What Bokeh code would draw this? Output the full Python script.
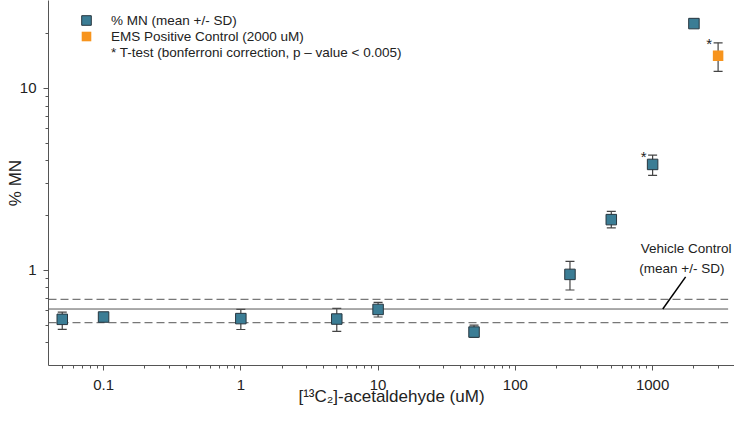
from bokeh.plotting import figure
from bokeh.models import (ColumnDataSource, Whisker, TeeHead, Legend, LegendItem,
                          FixedTicker)
from bokeh.core.properties import value
from bokeh.embed import file_html
from bokeh.resources import INLINE

# ---------------- data ----------------
CONC = [0.05, 0.1, 1, 5, 10, 50, 250, 500, 1000, 2000]
MN = [0.538, 0.554, 0.543, 0.540, 0.610, 0.458, 0.95, 1.90, 3.82, 22.7]
MN_LO = [0.474, 0.540, 0.473, 0.462, 0.554, 0.430, 0.78, 1.71, 3.33, 22.4]
MN_HI = [0.590, 0.570, 0.610, 0.618, 0.667, 0.500, 1.12, 2.11, 4.30, 23.0]

EMS_X = [3000]
EMS_Y = [15.1]
EMS_LO = [12.4]
EMS_HI = [17.8]

STAR_X = [1000, 3000]
STAR_Y = [4.30, 17.8]

X_START, X_END = 0.0397, 3950
Y_START, Y_END = 0.30, 30.4

VC_X = [X_START, 3550]
VC_MEAN = 0.613
VC_LO = 0.516
VC_HI = 0.693
VC_LEADER_X = [1186, 1740]
VC_LEADER_Y = [0.613, 0.92]
VC_TEXT_X = [820, 800]
VC_TEXT_Y = [1.32, 1.02]
VC_TEXT = ["Vehicle Control", "(mean +/- SD)"]

X_TICKS = [0.1, 1, 10, 100, 1000]
X_TICK_LABELS = ["0.1", "1", "10", "100", "1000"]
X_MINOR = [0.05, 0.06, 0.07, 0.08, 0.09] + [k * 0.1 for k in range(2, 10)] + \
          list(range(2, 10)) + [k * 10 for k in range(2, 10)] + \
          [k * 100 for k in range(2, 10)] + [2000, 3000]
Y_TICKS = [1, 10]
Y_TICK_LABELS = ["1", "10"]
Y_MINOR = [0.4, 0.5, 0.6, 0.7, 0.8, 0.9, 2, 3, 4, 5, 6, 7, 8, 9, 20]

X_TITLE = "[\u00b9\u00b3C\u2082]-acetaldehyde (uM)"
Y_TITLE = "% MN"
LEGEND_LABELS = ["% MN (mean +/- SD)", "EMS Positive Control (2000 uM)",
                 "* T-test (bonferroni correction, p \u2013 value < 0.005)"]

TEAL = "#3b7d95"
TEAL_LINE = "#27363f"
ORANGE = "#f7941d"
FONT = "Liberation Sans"
TXT = "#222222"
AX = "#555555"

p = figure(width=734, height=409, x_axis_type="log", y_axis_type="log",
           x_range=(X_START, X_END), y_range=(Y_START, Y_END),
           output_backend="svg", toolbar_location=None,
           min_border_left=48, min_border_right=0, min_border_top=0,
           min_border_bottom=44)
p.outline_line_color = None
p.xgrid.visible = False
p.ygrid.visible = False
p.background_fill_color = "white"

# axes
p.xaxis.ticker = FixedTicker(ticks=X_TICKS, minor_ticks=X_MINOR)
p.yaxis.ticker = FixedTicker(ticks=Y_TICKS, minor_ticks=Y_MINOR)
p.xaxis.major_label_overrides = dict(zip(X_TICKS, X_TICK_LABELS))
p.yaxis.major_label_overrides = dict(zip(Y_TICKS, Y_TICK_LABELS))
p.xaxis.axis_label = X_TITLE
p.yaxis.axis_label = Y_TITLE
for ax in (p.xaxis, p.yaxis):
    ax.axis_line_color = AX
    ax.major_tick_line_color = AX
    ax.minor_tick_line_color = AX
    ax.major_tick_in = 0
    ax.major_tick_out = 5
    ax.minor_tick_in = 0
    ax.minor_tick_out = 3
    ax.major_label_text_font = FONT
    ax.major_label_text_font_size = "15px"
    ax.major_label_text_color = TXT
    ax.axis_label_text_font = FONT
    ax.axis_label_text_font_style = "normal"
    ax.axis_label_text_color = TXT
p.xaxis.axis_label_text_font_size = "17px"
p.yaxis.axis_label_text_font_size = "17px"
p.xaxis.major_label_standoff = 9
p.xaxis.axis_label_standoff = -6
p.yaxis.major_label_standoff = 7
p.yaxis.axis_label_standoff = -8

# vehicle control lines
p.line(VC_X, [VC_MEAN, VC_MEAN], line_color="#555555", line_width=1)
p.line(VC_X, [VC_HI, VC_HI], line_color="#777777", line_width=1.2, line_dash="8 4")
p.line(VC_X, [VC_LO, VC_LO], line_color="#777777", line_width=1.2, line_dash="8 4")
p.line(VC_LEADER_X, VC_LEADER_Y, line_color="black", line_width=1.5)
p.text(VC_TEXT_X, VC_TEXT_Y, text=VC_TEXT, text_font=value(FONT),
       text_font_size="13.5px", text_color=TXT, text_baseline="middle",
       text_align="left")

# error bars
src = ColumnDataSource(dict(x=CONC, y=MN, lo=MN_LO, hi=MN_HI))
ems = ColumnDataSource(dict(x=EMS_X, y=EMS_Y, lo=EMS_LO, hi=EMS_HI))
for s in (src, ems):
    w = Whisker(base="x", lower="lo", upper="hi", source=s, dimension="height",
                line_color="#444444", line_width=1.2,
                upper_head=TeeHead(size=9, line_color="#444444", line_width=1.2),
                lower_head=TeeHead(size=9, line_color="#444444", line_width=1.2),
                level="underlay")
    p.add_layout(w)

# square markers (rect glyphs with a fixed pixel size)
r_mn = p.rect("x", "y", source=src, width=10.5, height=10.5, width_units="screen",
              height_units="screen", fill_color=TEAL, line_color=TEAL_LINE,
              line_width=1)
r_ems = p.rect("x", "y", source=ems, width=10.5, height=10.5, width_units="screen",
               height_units="screen", fill_color=ORANGE, line_color=None)
r_blank = p.quad(left=[], right=[], top=[], bottom=[], fill_alpha=0,
                 line_alpha=0)

p.text(STAR_X, STAR_Y, text=["*"] * len(STAR_X), text_font=value(FONT),
       text_font_size="15px", text_color=TXT, x_offset=-9, y_offset=1,
       text_align="center", text_baseline="middle")

legend = Legend(items=[LegendItem(label=LEGEND_LABELS[0], renderers=[r_mn]),
                       LegendItem(label=LEGEND_LABELS[1], renderers=[r_ems]),
                       LegendItem(label=LEGEND_LABELS[2], renderers=[r_blank])],
                location=(32, 305), padding=0, margin=0, spacing=0,
                glyph_width=12, glyph_height=12, label_height=16,
                label_standoff=19, label_text_font=FONT,
                label_text_font_size="13.5px", label_text_color=TXT,
                border_line_color=None, background_fill_alpha=0)
p.add_layout(legend)

open("out.html", "w").write(file_html(p, INLINE))
